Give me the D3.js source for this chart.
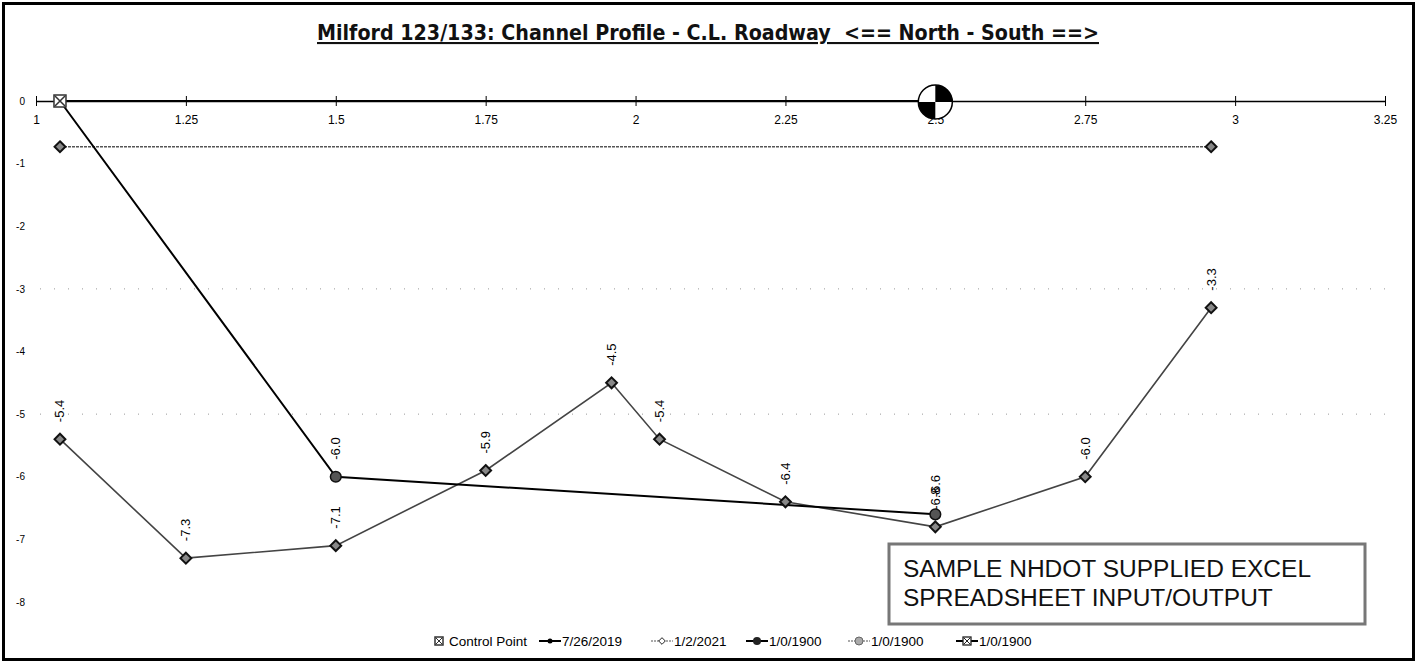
<!DOCTYPE html>
<html lang="en">
<head>
    <meta charset="UTF-8">
    <title>Milford 123/133 Channel Profile</title>
    <script src="https://d3js.org/d3.v7.min.js"></script>
    <style>
        html, body { margin: 0; padding: 0; background: #fff; }
        svg { display: block; font-family: "Liberation Sans", Arial, sans-serif; }
    </style>
</head>
<body>
<div id="chart"></div>

<script>
    // x = station along the channel, y = depth (ft)
    const xTicks = [1, 1.25, 1.5, 1.75, 2, 2.25, 2.5, 2.75, 3, 3.25];
    const yTicks = [0, -1, -2, -3, -4, -5, -6, -7, -8];
    const gridLevels = [-3, -5];

    const controlX = [1.04];
    const controlY = [0];

    const s2019X = [1.04, 1.5, 2.5];
    const s2019Y = [0, -6.0, -6.6];
    const s2019Labels = ["", "-6.0", "-6.6"];

    const s2021X = [1.04, 1.25, 1.5, 1.75, 1.96, 2.04, 2.25, 2.5, 2.75, 2.96];
    const s2021Y = [-5.4, -7.3, -7.1, -5.9, -4.5, -5.4, -6.4, -6.8, -6.0, -3.3];

    const refTopX = [1.04, 2.5];      // 1/0/1900 series along the zero line
    const refTopY = [0, 0];
    const refLowX = [1.04, 2.96];     // 1/0/1900 grey series
    const refLowY = [-0.73, -0.73];

    const legendNames = ["Control Point", "7/26/2019", "1/2/2021", "1/0/1900", "1/0/1900", "1/0/1900"];

    const W = 1418, H = 664;
    const svg = d3.select("#chart").append("svg").attr("width", W).attr("height", H);

    const x = d3.scaleLinear().domain([1, 3.25]).range([36, 1385]);
    const y = d3.scaleLinear().domain([0, -8]).range([101, 602]);

    // outer frame
    svg.append("rect").attr("x", 3.5).attr("y", 3.5).attr("width", W - 8).attr("height", H - 8)
        .attr("fill", "none").attr("stroke", "#000").attr("stroke-width", 3);

    // title
    svg.append("text")
        .attr("x", 708).attr("y", 40)
        .attr("text-anchor", "middle")
        .attr("textLength", 782).attr("lengthAdjust", "spacingAndGlyphs")
        .style("white-space", "pre")
        .style("font-family", "'DejaVu Sans Condensed', 'Liberation Sans', sans-serif")
        .style("font-weight", "bold").style("font-size", "21px")
        .style("text-decoration", "underline")
        .attr("fill", "#111")
        .text("Milford 123/133: Channel Profile - C.L. Roadway  <== North - South ==>");

    // faint dotted gridlines
    svg.append("g").selectAll("line").data(gridLevels).join("line")
        .attr("x1", 40).attr("x2", 1385)
        .attr("y1", d => y(d)).attr("y2", d => y(d))
        .attr("stroke", "#999").attr("stroke-width", 1).attr("stroke-dasharray", "1,13");

    // x axis on the zero line, ticks crossing it
    const xAxis = svg.append("g").attr("transform", `translate(0,${y(0)})`)
        .call(d3.axisBottom(x).tickValues(xTicks).tickFormat(d => String(d)).tickSizeInner(5).tickSizeOuter(0).tickPadding(9));
    xAxis.select(".domain").attr("stroke", "#000").attr("stroke-width", 1.3);
    xAxis.selectAll(".tick line").attr("y1", -5).attr("y2", 5).attr("stroke", "#000");
    xAxis.selectAll(".tick text").style("font-size", "12px").attr("fill", "#000")
        .style("font-family", "'Liberation Sans', Arial, sans-serif");

    // y axis labels only
    const yAxis = svg.append("g").attr("transform", "translate(25,0)")
        .call(d3.axisLeft(y).tickValues(yTicks).tickFormat(d => String(d)).tickSize(0).tickPadding(0));
    yAxis.select(".domain").remove();
    yAxis.selectAll(".tick text").style("font-size", "10px").attr("fill", "#000")
        .style("font-family", "'Liberation Sans', Arial, sans-serif");

    const line = d3.line().x(d => x(d[0])).y(d => y(d[1]));
    const zip = (a, b) => a.map((v, i) => [v, b[i]]);

    // grey reference line
    svg.append("path").datum(zip(refLowX, refLowY)).attr("d", line)
        .attr("fill", "none").attr("stroke", "#555").attr("stroke-width", 1.5).attr("stroke-dasharray", "3,1");

    // black reference line on zero
    svg.append("path").datum(zip(refTopX, refTopY)).attr("d", line)
        .attr("fill", "none").attr("stroke", "#000").attr("stroke-width", 2);

    // 1/2/2021
    const d2021 = zip(s2021X, s2021Y);
    svg.append("path").datum(d2021).attr("d", line)
        .attr("fill", "none").attr("stroke", "#444").attr("stroke-width", 1.6);

    // 7/26/2019
    const d2019 = zip(s2019X, s2019Y);
    svg.append("path").datum(d2019).attr("d", line)
        .attr("fill", "none").attr("stroke", "#000").attr("stroke-width", 2);

    const diamond = d3.symbol().type(d3.symbolDiamond2).size(75);
    const circle = d3.symbol().type(d3.symbolCircle).size(90);

    svg.append("g").selectAll("path").data(zip(refLowX, refLowY)).join("path")
        .attr("transform", d => `translate(${x(d[0])},${y(d[1])})`)
        .attr("d", diamond).attr("fill", "#888").attr("stroke", "#111").attr("stroke-width", 2);

    svg.append("g").selectAll("path").data(d2021).join("path")
        .attr("transform", d => `translate(${x(d[0])},${y(d[1])})`)
        .attr("d", diamond).attr("fill", "#888").attr("stroke", "#111").attr("stroke-width", 2);

    svg.append("g").selectAll("path").data(d2019.slice(1)).join("path")
        .attr("transform", d => `translate(${x(d[0])},${y(d[1])})`)
        .attr("d", circle).attr("fill", "#555").attr("stroke", "#111").attr("stroke-width", 1.5);

    // control point marker
    const cp = svg.append("g").selectAll("g").data(zip(controlX, controlY)).join("g")
        .attr("transform", d => `translate(${x(d[0])},${y(d[1])})`);
    cp.append("rect").attr("x", -6).attr("y", -6).attr("width", 12).attr("height", 12)
        .attr("fill", "#fff").attr("stroke", "#333").attr("stroke-width", 1.5);
    cp.append("path").attr("d", "M-5,-5L5,5M5,-5L-5,5").attr("stroke", "#333").attr("stroke-width", 1.5);

    // benchmark marker at the end of the zero reference line
    const bm = svg.append("g")
        .attr("transform", `translate(${x(refTopX[1])},${y(refTopY[1]) + 1})`);
    const arc = d3.arc().innerRadius(0).outerRadius(17);
    bm.append("circle").attr("r", 17).attr("fill", "#fff");
    bm.append("path").attr("d", arc({startAngle: 0, endAngle: Math.PI / 2})).attr("fill", "#000");
    bm.append("path").attr("d", arc({startAngle: Math.PI, endAngle: Math.PI * 1.5})).attr("fill", "#000");
    bm.append("circle").attr("r", 17).attr("fill", "none").attr("stroke", "#000").attr("stroke-width", 1.5);

    // rotated data labels
    function labels(data, texts) {
        svg.append("g").selectAll("text").data(data).join("text")
            .attr("transform", d => `translate(${x(d[0]) + 4.5},${y(d[1]) - 17}) rotate(-90)`)
            .attr("text-anchor", "start")
            .style("font-size", "13px").attr("fill", "#000")
            .text((d, i) => texts[i]);
    }
    labels(d2021, s2021Y.map(v => v.toFixed(1)));
    labels(d2019, s2019Labels);

    // sample note box
    const note = svg.append("g");
    note.append("rect").attr("x", 889).attr("y", 544).attr("width", 476).attr("height", 80)
        .attr("fill", "#fff").attr("stroke", "#777").attr("stroke-width", 3);
    note.append("text").attr("x", 903).attr("y", 577).style("font-size", "24.5px").attr("fill", "#111")
        .text("SAMPLE NHDOT SUPPLIED EXCEL");
    note.append("text").attr("x", 903).attr("y", 606).style("font-size", "24.5px").attr("fill", "#111")
        .text("SPREADSHEET INPUT/OUTPUT");

    // legend
    const legendX = [436, 539, 651, 746, 848, 956];
    const legendY = 641;
    const lg = svg.append("g").selectAll("g").data(legendNames).join("g")
        .attr("transform", (d, i) => `translate(${legendX[i]},${legendY})`);
    lg.each(function (d, i) {
        const g = d3.select(this);
        let tx = 22;
        if (i === 0) {
            g.append("rect").attr("x", -1).attr("y", -4).attr("width", 8).attr("height", 8)
                .attr("fill", "#fff").attr("stroke", "#333").attr("stroke-width", 1.5);
            g.append("path").attr("d", "M0,-3L6,3M6,-3L0,3").attr("stroke", "#333");
            tx = 12;
        } else {
            const thick = (i === 1 || i === 3 || i === 5);
            g.append("line").attr("x1", 0).attr("x2", 22).attr("y1", 0).attr("y2", 0)
                .attr("stroke", thick ? "#000" : "#555").attr("stroke-width", thick ? 2 : 1.2)
                .attr("stroke-dasharray", thick ? null : "2,1");
            if (i === 1) g.append("circle").attr("cx", 11).attr("r", 2.5).attr("fill", "#000");
            if (i === 2) g.append("path").attr("transform", "translate(11,0)")
                .attr("d", d3.symbol().type(d3.symbolDiamond2).size(28)).attr("fill", "#fff").attr("stroke", "#222");
            if (i === 3) g.append("circle").attr("cx", 11).attr("r", 4).attr("fill", "#222");
            if (i === 4) g.append("circle").attr("cx", 11).attr("r", 4).attr("fill", "#aaa").attr("stroke", "#666");
            if (i === 5) {
                g.append("rect").attr("x", 7).attr("y", -4).attr("width", 8).attr("height", 8)
                    .attr("fill", "#fff").attr("stroke", "#222").attr("stroke-width", 1.3);
                g.append("path").attr("d", "M8,-3L14,3M14,-3L8,3").attr("stroke", "#222");
            }
        }
        g.append("text").attr("x", tx + 1).attr("y", 4.5).style("font-size", "13.5px").attr("fill", "#000").text(d);
    });
</script>
</body>
</html>
